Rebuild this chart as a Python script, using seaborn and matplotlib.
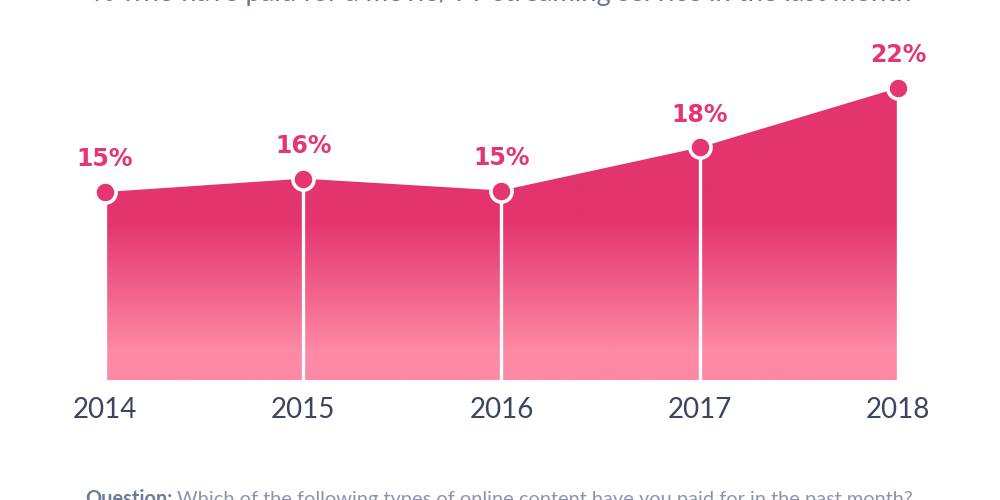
import numpy as np
import pandas as pd
import matplotlib
matplotlib.use("Agg")
import matplotlib.pyplot as plt
from matplotlib.colors import LinearSegmentedColormap
import seaborn as sns

# ---- data ----
years = [2014, 2015, 2016, 2017, 2018]
share = [15.0, 15.9, 15.1, 18.0, 22.0]
labels = ["15%", "16%", "15%", "18%", "22%"]
title = "% who have paid for a movie/TV streaming service in the last month"
q_bold = "Question:"
q_text = "Which of the following types of online content have you paid for in the past month?"

df = pd.DataFrame({"year": years, "share": share})

sns.set_theme(style="white")
plt.rcParams['font.family'] = ['Lato', 'DejaVu Sans']

PINK = "#e5366f"
fig = plt.figure(figsize=(10, 5), dpi=100)
ax = fig.add_axes([0, 0.24, 1, 0.76])
x0, x1 = 2013.4704, 2018.5145
y0, y1 = 2.35, 27.92
ax.set_xlim(x0, x1)
ax.set_ylim(y0, y1)
ax.axis("off")

# gradient fill clipped by area polygon
poly = ax.fill_between(df["year"], y0, df["share"], color="none", lw=0)
cmap = LinearSegmentedColormap.from_list("g", ["#fd89a5", "#e3346e"])
def ypx_to_val(p):  # pixel from top (figure) to data value
    return 15 - (p - 192) / 14.86
ga, gb = ypx_to_val(350), ypx_to_val(220)
vals = np.linspace(y0, y1, 400)
grad = np.clip((vals - ga) / (gb - ga), 0, 1)[:, None]
im = ax.imshow(grad, extent=[x0, x1, y0, y1], origin="lower", aspect="auto",
               cmap=cmap, vmin=0, vmax=1, zorder=1)
im.set_clip_path(poly.get_paths()[0], transform=ax.transData)

# white vertical lines
for yr, v in zip(years, share):
    ax.plot([yr, yr], [y0, v], color="white", lw=2.4, zorder=2, solid_capstyle="butt")

# points
sns.scatterplot(data=df, x="year", y="share", ax=ax, s=230, color=PINK,
                edgecolor="white", linewidth=2.6, zorder=3, clip_on=False)

# value labels
for yr, v, lab in zip(years, share, labels):
    ax.annotate(lab, (yr, v), xytext=(0, 23.5), textcoords="offset points",
                ha="center", va="center", fontsize=17, fontweight="bold",
                color=PINK, family="DejaVu Sans")

# year labels
for yr in years:
    xf = (yr - x0) / (x1 - x0)
    fig.text(xf, 1 - 410 / 500, str(yr), ha="center", va="center",
             fontsize=20, color="#3b4561")

# top title (cut off at top edge, as in the reference)
fig.text(0.5025, 1 - 1.0 / 500, title, ha="center", va="baseline",
         fontsize=19.7, color="#6a7596")

# bottom question (cut off at bottom edge, as in the reference)
t1 = fig.text(0.085, 1 - 505 / 500, q_bold, ha="left", va="baseline",
              fontsize=14.4, fontweight="bold", color="#6f7a99")
fig.canvas.draw()
r = fig.canvas.get_renderer()
bb = t1.get_window_extent(r)
fig.text((bb.x1 + 5) / 1000, 1 - 505 / 500, q_text, ha="left", va="baseline",
         fontsize=14.4, color="#8b93b0")

fig.savefig("out.png", dpi=100)
